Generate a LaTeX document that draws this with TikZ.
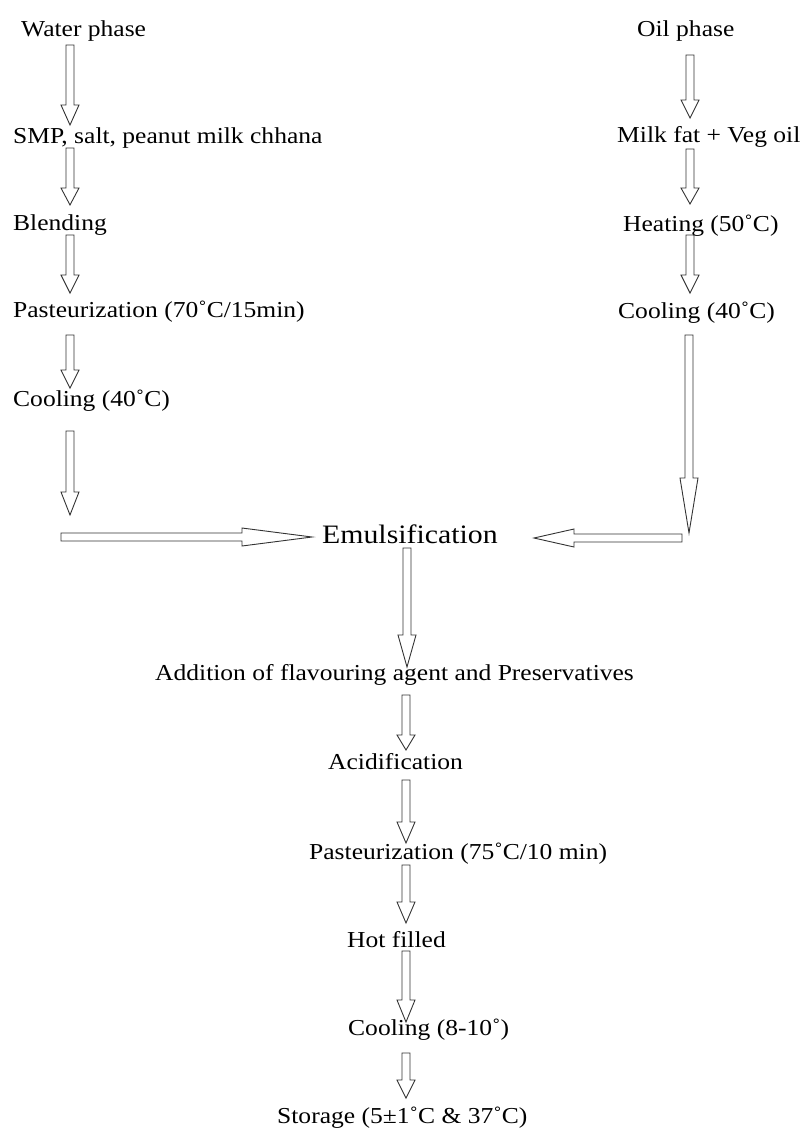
\documentclass[tikz,border=0pt]{standalone}
\usepackage{fontspec}
\setmainfont[FakeStretch=1.12]{Liberation Serif}
\usetikzlibrary{calc}

\tikzset{
  stage/.style={anchor=base west, inner sep=0pt, font=\fontsize{22.8}{27}\selectfont},
  mainstage/.style={anchor=base west, inner sep=0pt, font=\fontsize{26.6}{32}\selectfont},
  blockarrow/.style={draw=black!80, line width=0.9pt,
    to path={
      ($(\tikztostart)!4pt!90:(\tikztotarget)$)
      -- ($(\tikztotarget)!#1!(\tikztostart)!4pt!-90:(\tikztostart)$)
      -- ($(\tikztotarget)!#1!(\tikztostart)!9pt!-90:(\tikztostart)$)
      -- (\tikztotarget)
      -- ($(\tikztotarget)!#1!(\tikztostart)!9pt!90:(\tikztostart)$)
      -- ($(\tikztotarget)!#1!(\tikztostart)!4pt!90:(\tikztostart)$)
      -- ($(\tikztostart)!4pt!-90:(\tikztotarget)$)
      -- cycle}},
  blockarrow/.default=20pt
}

\begin{document}
\begin{tikzpicture}[x=1pt, y=-1pt]
    \useasboundingbox (0,0) rectangle (806,1128);

    \node (water) [stage] at (21,36) {Water phase};
    \node (smp) [stage] at (13,143) {SMP, salt, peanut milk chhana};
    \node (blend) [stage] at (13,230) {Blending};
    \node (pastL) [stage] at (13,317) {Pasteurization (70˚C/15min)};
    \node (coolL) [stage] at (13,406) {Cooling (40˚C)};

    \node (oil) [stage] at (637,36) {Oil phase};
    \node (fat) [stage] at (617,142) {Milk fat + Veg oil};
    \node (heat) [stage] at (623,231) {Heating (50˚C)};
    \node (coolR) [stage] at (618,318) {Cooling (40˚C)};

    \node (emul) [mainstage] at (322,543) {Emulsification};
    \node (flav) [stage] at (155,680) {Addition of flavouring agent and Preservatives};
    \node (acid) [stage] at (328,769) {Acidification};
    \node (pastB) [stage] at (309,859) {Pasteurization (75˚C/10 min)};
    \node (hot) [stage] at (347,947) {Hot filled};
    \node (coolB) [stage] at (348,1035) {Cooling (8-10˚)};
    \node (store) [stage] at (277,1123) {Storage (5±1˚C \& 37˚C)};

    \coordinate (l1a) at (70,45);   \coordinate (l1b) at (70,125);
    \coordinate (l2a) at (70,148);  \coordinate (l2b) at (70,205);
    \coordinate (l3a) at (70,235);  \coordinate (l3b) at (70,293);
    \coordinate (l4a) at (70,335);  \coordinate (l4b) at (70,388);
    \coordinate (l5a) at (70,431);  \coordinate (l5b) at (70,515);
    \coordinate (hla) at (61,537);  \coordinate (hlb) at (312,537);
    \coordinate (r1a) at (690,55);  \coordinate (r1b) at (690,118);
    \coordinate (r2a) at (690,149); \coordinate (r2b) at (690,204);
    \coordinate (r3a) at (690,235); \coordinate (r3b) at (690,293);
    \coordinate (r4a) at (689,335); \coordinate (r4b) at (689,533);
    \coordinate (hra) at (682,538); \coordinate (hrb) at (534,538);
    \coordinate (e1a) at (407,548); \coordinate (e1b) at (407,667);
    \coordinate (b1a) at (406,695); \coordinate (b1b) at (406,750);
    \coordinate (b2a) at (406,780); \coordinate (b2b) at (406,843);
    \coordinate (b3a) at (406,865); \coordinate (b3b) at (406,923);
    \coordinate (b4a) at (406,951); \coordinate (b4b) at (406,1022);
    \coordinate (b5a) at (406,1053); \coordinate (b5b) at (406,1098);

    \draw[blockarrow=20pt] (l1a) to (l1b);
    \draw[blockarrow=17pt] (l2a) to (l2b);
    \draw[blockarrow=18pt] (l3a) to (l3b);
    \draw[blockarrow=18pt] (l4a) to (l4b);
    \draw[blockarrow=23pt] (l5a) to (l5b);
    \draw[blockarrow=70pt] (hla) to (hlb);
    \draw[blockarrow=18pt] (r1a) to (r1b);
    \draw[blockarrow=16pt] (r2a) to (r2b);
    \draw[blockarrow=18pt] (r3a) to (r3b);
    \draw[blockarrow=55pt] (r4a) to (r4b);
    \draw[blockarrow=40pt] (hra) to (hrb);
    \draw[blockarrow=32pt] (e1a) to (e1b);
    \draw[blockarrow=15pt] (b1a) to (b1b);
    \draw[blockarrow=21pt] (b2a) to (b2b);
    \draw[blockarrow=21pt] (b3a) to (b3b);
    \draw[blockarrow=22pt] (b4a) to (b4b);
    \draw[blockarrow=18pt] (b5a) to (b5b);
\end{tikzpicture}
\end{document}
